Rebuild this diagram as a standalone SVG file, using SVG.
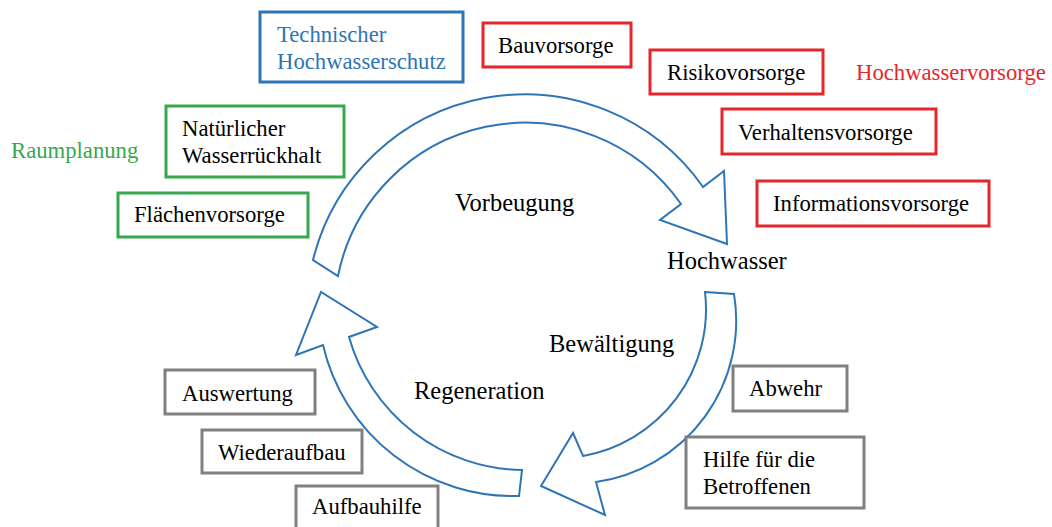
<svg xmlns="http://www.w3.org/2000/svg" width="1052" height="527" viewBox="0 0 1052 527" font-family="'Liberation Serif', 'DejaVu Serif', serif" font-size="22.7">
  <style>
    text { font-family: 'Liberation Serif', 'DejaVu Serif', serif; font-size: 22.7px; fill: #000; }
    text.phase { font-size: 24.5px; }
    .box { fill: #fff; stroke-width: 3; }
    .blue { stroke: #2E75B6; }
    .green { stroke: #35A84E; }
    .red { stroke: #E5262A; }
    .grey { stroke: #808080; }
    .tblue { fill: #2E75B6; }
    .tgreen { fill: #35A84E; }
    .tred { fill: #E5262A; }
    .arrow { fill: #fff; stroke: #2E75B6; stroke-width: 2; stroke-linejoin: miter; }
  </style>
  <rect width="1052" height="527" fill="#fff"/>

  <g id="connectors">
    <path id="arrow-vorbeugung" class="arrow" d="M313,260 A218,218 0 0 1 703,187 L724,171 L727,244 L660,220 L681,204 A190.6,190.6 0 0 0 338,276 Z"/>
    <path id="arrow-bewaeltigung" class="arrow" d="M705,292 L734,294 A163,163 0 0 1 596,482 L605,515 L541,486 L573,433 L583,456 A149,149 0 0 0 705,292 Z"/>
    <path id="arrow-regeneration" class="arrow" d="M522,470 L519,496 A195,195 0 0 1 323,345 L296,355 L321,292 L377,327 L349,337 A182.5,182.5 0 0 0 522,470 Z"/>
  </g>

  <g id="phase-labels">
    <text class="phase" x="455" y="211">Vorbeugung</text>
    <text class="phase" x="667" y="269">Hochwasser</text>
    <text class="phase" x="549" y="352">Bewältigung</text>
    <text class="phase" x="414" y="399">Regeneration</text>
  </g>

  <g id="technischer-hochwasserschutz">
    <rect class="box blue" x="260" y="12" width="203" height="70"/>
    <text class="tblue" x="277" y="42">Technischer</text>
    <text class="tblue" x="277" y="69">Hochwasserschutz</text>
  </g>

  <g id="raumplanung">
    <text class="tgreen" x="11" y="158">Raumplanung</text>
  </g>
  <g id="natuerlicher-wasserrueckhalt">
    <rect class="box green" x="166" y="106" width="178" height="71"/>
    <text x="182" y="136">Natürlicher</text>
    <text x="182" y="163">Wasserrückhalt</text>
  </g>
  <g id="flaechenvorsorge">
    <rect class="box green" x="118" y="193" width="190" height="44"/>
    <text x="134" y="222">Flächenvorsorge</text>
  </g>

  <g id="hochwasservorsorge">
    <text class="tred" x="856" y="80">Hochwasservorsorge</text>
  </g>
  <g id="bauvorsorge">
    <rect class="box red" x="483" y="23" width="148" height="44"/>
    <text x="498" y="53">Bauvorsorge</text>
  </g>
  <g id="risikovorsorge">
    <rect class="box red" x="650" y="50" width="173" height="44"/>
    <text x="667" y="80">Risikovorsorge</text>
  </g>
  <g id="verhaltensvorsorge">
    <rect class="box red" x="722" y="109" width="214" height="45"/>
    <text x="738" y="140">Verhaltensvorsorge</text>
  </g>
  <g id="informationsvorsorge">
    <rect class="box red" x="757" y="181" width="232" height="45"/>
    <text x="773" y="211">Informationsvorsorge</text>
  </g>

  <g id="abwehr">
    <rect class="box grey" x="733" y="366" width="114" height="45"/>
    <text x="749" y="396">Abwehr</text>
  </g>
  <g id="hilfe-fuer-die-betroffenen">
    <rect class="box grey" x="686" y="437" width="178" height="71"/>
    <text x="703" y="467">Hilfe für die</text>
    <text x="703" y="494">Betroffenen</text>
  </g>

  <g id="auswertung">
    <rect class="box grey" x="165" y="370" width="150" height="44"/>
    <text x="182" y="401">Auswertung</text>
  </g>
  <g id="wiederaufbau">
    <rect class="box grey" x="202" y="430" width="160" height="43"/>
    <text x="218" y="460">Wiederaufbau</text>
  </g>
  <g id="aufbauhilfe">
    <rect class="box grey" x="296" y="486" width="142" height="44"/>
    <text x="312" y="514">Aufbauhilfe</text>
  </g>
</svg>
